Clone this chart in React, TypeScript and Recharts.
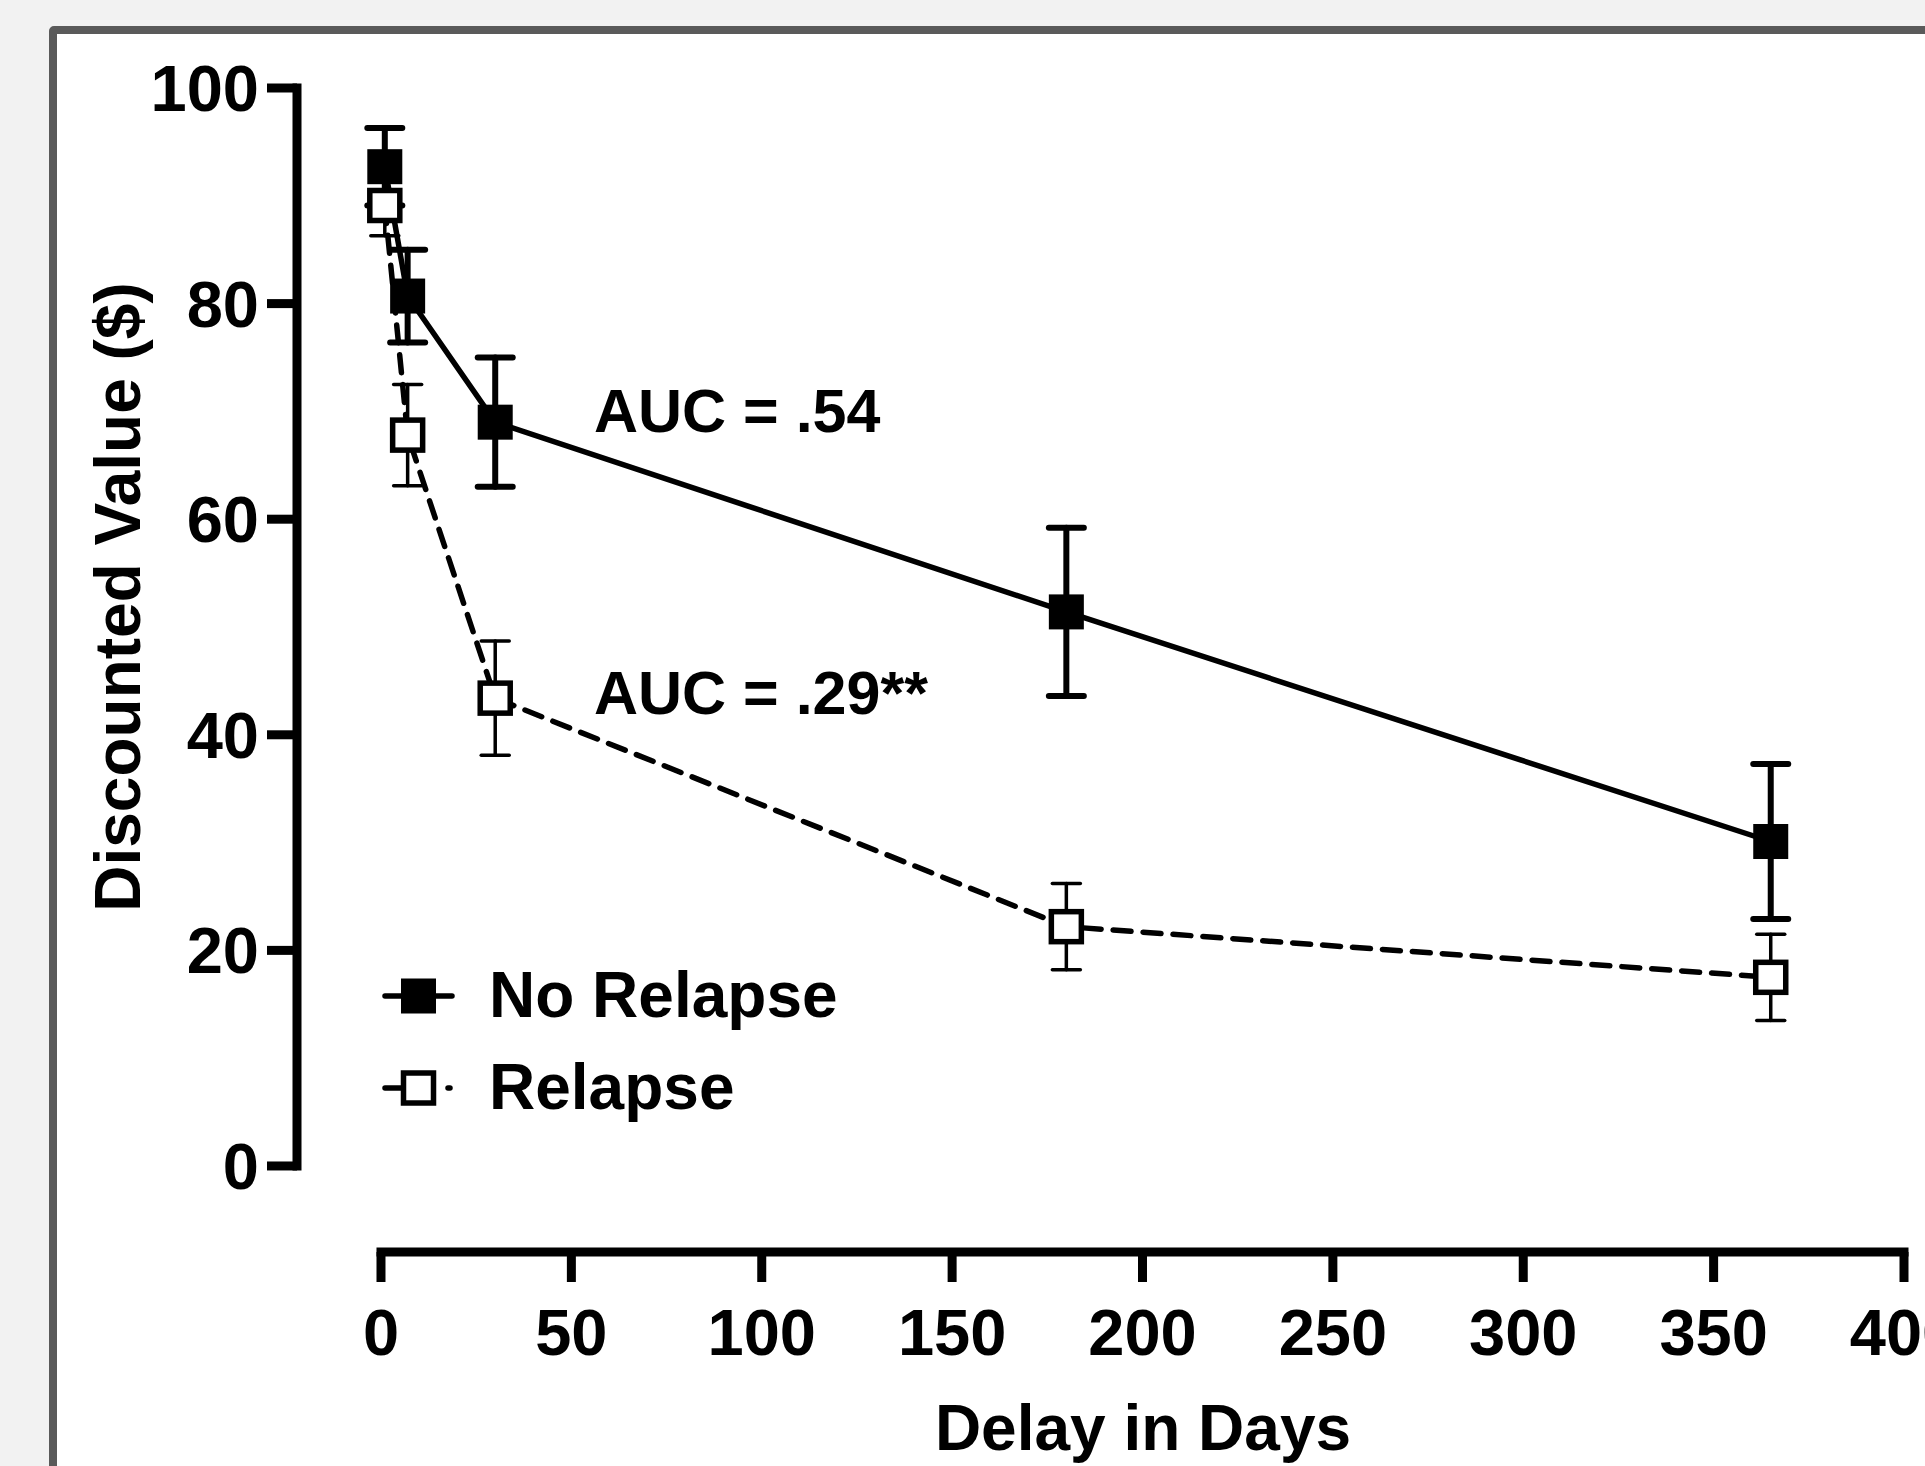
import React from 'react';
import { LineChart, Line, XAxis, YAxis, ErrorBar, ReferenceLine, Legend } from 'recharts';

// delay (days) and mean discounted value ($) with SEM
const delays = [1, 7, 30, 180, 365];
const noRelapse = [92.7, 80.7, 69.0, 51.4, 30.1];
const noRelapseSem = [3.6, 4.3, 6.0, 7.8, 7.2];
const relapse = [89.1, 67.8, 43.4, 22.2, 17.5];
const relapseSem = [2.8, 4.7, 5.3, 4.0, 4.0];

const xTicks = [0, 50, 100, 150, 200, 250, 300, 350, 400];
const yTicks = [0, 20, 40, 60, 80, 100];
const seriesNames = ['No Relapse', 'Relapse'];
const aucLabels = ['AUC = .54', 'AUC = .29**'];

const data = delays.map((d, i) => ({
  delay: d,
  noRelapse: noRelapse[i],
  noRelapseErr: noRelapseSem[i],
  relapse: relapse[i],
  relapseErr: relapseSem[i],
}));

const FONT = '"Liberation Sans", Arial, Helvetica, sans-serif';
// axes are offset Prism-style, so the domains run a little past 0
const X_MIN = -22.06;
const Y_MIN = -7.98;

const tickStyle = { fill: '#000', fontSize: 65, fontWeight: 700, fontFamily: FONT };

function FilledSquare(props: any) {
  const { cx, cy } = props;
  if (cx == null || cy == null) return null;
  return <rect x={cx - 17.5} y={cy - 17.5} width={35} height={35} fill="#000" />;
}

function OpenSquare(props: any) {
  const { cx, cy } = props;
  if (cx == null || cy == null) return null;
  return <rect x={cx - 15} y={cy - 15} width={30} height={30} fill="#fff" stroke="#000" strokeWidth={5.5} />;
}

function YTitle(props: any) {
  const vb = props.viewBox || { x: 0, y: 88, width: 297, height: 1164 };
  const x = vb.x + vb.width - 157;
  const y = vb.y + 509;
  return (
    <text x={x} y={y} transform={`rotate(-90 ${x} ${y})`} textAnchor="middle"
      style={{ fontFamily: FONT, fontSize: 64, fontWeight: 700 }} fill="#000">
      Discounted Value ($)
    </text>
  );
}

function XTitle(props: any) {
  const vb = props.viewBox || { x: 297, y: 1252, width: 1607, height: 214 };
  return (
    <text x={vb.x + 846} y={vb.y + 198} textAnchor="middle"
      style={{ fontFamily: FONT, fontSize: 64, fontWeight: 700 }} fill="#000">
      Delay in Days
    </text>
  );
}

function LegendBox({ payload }: any) {
  const items = [...(payload || [])].sort(
    (a: any, b: any) => seriesNames.indexOf(a.value) - seriesNames.indexOf(b.value)
  );
  return (
    <svg width={520} height={170}>
      {items.map((item: any, i: number) => {
        const cy = 36 + i * 92;
        const filled = item.value === 'No Relapse';
        return (
          <g key={item.value}>
            {filled ? (
              <line x1={5} x2={72} y1={cy} y2={cy} stroke="#000" strokeWidth={5.5} strokeLinecap="round" />
            ) : (
              <g>
                <line x1={5} x2={22} y1={cy} y2={cy} stroke="#000" strokeWidth={5.5} strokeLinecap="round" />
                <line x1={68} x2={70} y1={cy} y2={cy} stroke="#000" strokeWidth={5.5} strokeLinecap="round" />
              </g>
            )}
            {filled ? (
              <rect x={21} y={cy - 17.5} width={35} height={35} fill="#000" />
            ) : (
              <rect x={23.5} y={cy - 15} width={30} height={30} fill="#fff" stroke="#000" strokeWidth={5.5} />
            )}
            <text x={109} y={cy + 21} style={{ fontFamily: FONT, fontSize: 64, fontWeight: 700 }} fill="#000">
              {item.value}
            </text>
          </g>
        );
      })}
    </svg>
  );
}

export default function App() {
  return (
    <div style={{ position: 'absolute', left: 0, top: 0, width: 1925, height: 1466, overflow: 'hidden', background: '#f2f2f2' }}>
      <div style={{
        position: 'absolute', left: 49, top: 26, width: 1960, height: 1500,
        border: '8px solid #5a5a5a', borderRadius: 5, background: '#fff', boxSizing: 'border-box',
      }} />
      <div style={{ position: 'absolute', left: 0, top: 0 }}>
        <LineChart width={1990} height={1466} data={data} margin={{ top: 88, right: 86, bottom: 0, left: 0 }}>
          <XAxis
            type="number"
            dataKey="delay"
            domain={[X_MIN, 400]}
            allowDataOverflow
            ticks={xTicks}
            axisLine={false}
            tickLine={{ stroke: '#000', strokeWidth: 9 }}
            tickSize={30}
            tickMargin={27}
            tick={tickStyle}
            height={214}
            label={(p: any) => <XTitle {...p} />}
          />
          <YAxis
            type="number"
            domain={[Y_MIN, 100]}
            allowDataOverflow
            ticks={yTicks}
            axisLine={false}
            tickLine={{ stroke: '#000', strokeWidth: 9 }}
            tickSize={30}
            tickMargin={8}
            tick={tickStyle}
            width={297}
            label={(p: any) => <YTitle {...p} />}
          />
          <ReferenceLine
            segment={[{ x: X_MIN, y: 0 }, { x: X_MIN, y: 100 }]}
            stroke="#000" strokeWidth={9} strokeLinecap="square" ifOverflow="visible"
          />
          <ReferenceLine
            segment={[{ x: 0, y: Y_MIN }, { x: 400, y: Y_MIN }]}
            stroke="#000" strokeWidth={9} strokeLinecap="square" ifOverflow="visible"
          />
          <Legend
            layout="vertical"
            align="center"
            verticalAlign="middle"
            content={(p: any) => <LegendBox {...p} />}
            wrapperStyle={{ position: 'absolute', left: 380, top: 960, width: 520, height: 170 }}
          />
          <Line
            name="Relapse"
            dataKey="relapse"
            type="linear"
            stroke="#000"
            strokeWidth={5.5}
            strokeDasharray="18 12"
            strokeLinecap="round"
            dot={(p: any) => <OpenSquare key={`r${p.index}`} {...p} />}
            activeDot={false}
            isAnimationActive={false}
          >
            <ErrorBar dataKey="relapseErr" width={14} strokeWidth={3.5} stroke="#000" direction="y" strokeLinecap="round" />
          </Line>
          <Line
            name="No Relapse"
            dataKey="noRelapse"
            type="linear"
            stroke="#000"
            strokeWidth={5.5}
            dot={(p: any) => <FilledSquare key={`n${p.index}`} {...p} />}
            activeDot={false}
            isAnimationActive={false}
          >
            <ErrorBar dataKey="noRelapseErr" width={17.5} strokeWidth={6} stroke="#000" direction="y" strokeLinecap="round" />
          </Line>
        </LineChart>
      </div>
      <svg width={1925} height={1466} style={{ position: 'absolute', left: 0, top: 0, pointerEvents: 'none' }}>
        <text x={594} y={432} style={{ fontFamily: FONT, fontSize: 61, fontWeight: 700 }} fill="#000">{aucLabels[0]}</text>
        <text x={594} y={714} style={{ fontFamily: FONT, fontSize: 61, fontWeight: 700 }} fill="#000">{aucLabels[1]}</text>
      </svg>
    </div>
  );
}
